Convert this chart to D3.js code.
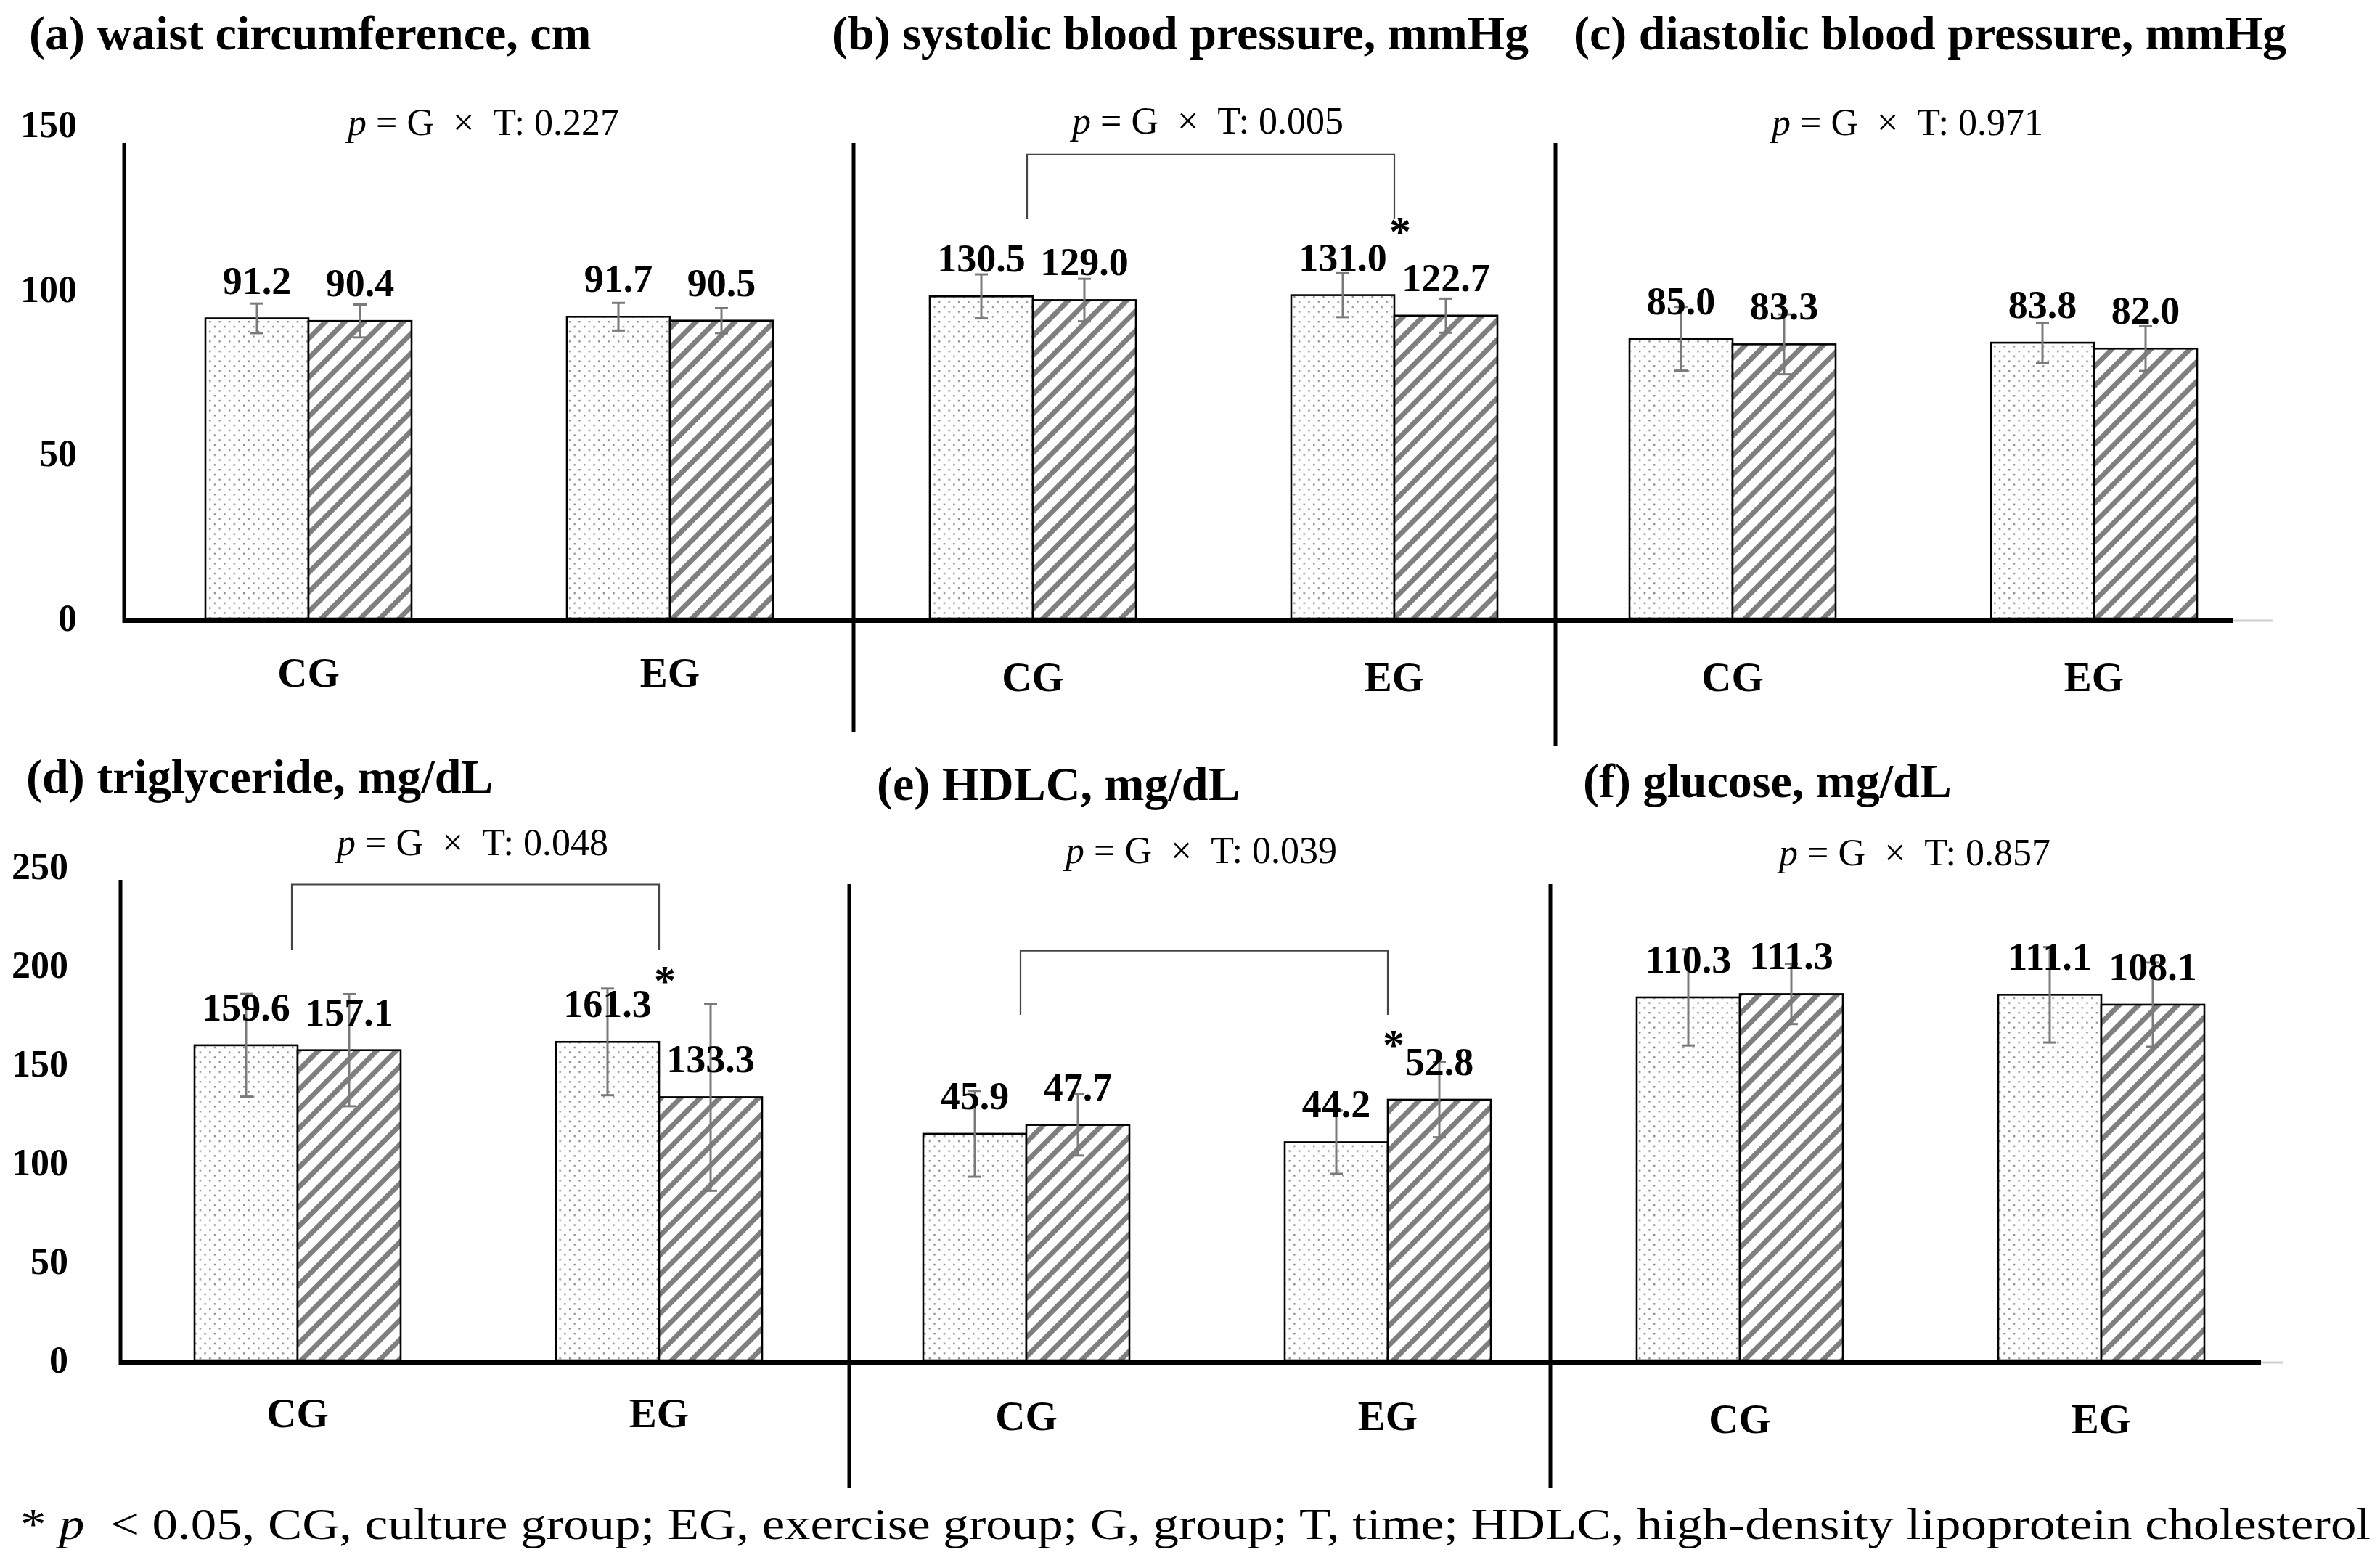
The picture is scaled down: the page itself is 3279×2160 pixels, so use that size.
<!DOCTYPE html>
<html lang="en">
<head>
<meta charset="UTF-8">
<title>Metabolic markers by group</title>
<script src="https://d3js.org/d3.v7.min.js"></script>
<style>
  body { margin: 0; background: #fff; }
  svg { display: block; }
  text { font-family: "Liberation Serif", "Times New Roman", serif; fill: #000; }
  .title { font-size: 66px; font-weight: bold; }
  .ptext { font-size: 52px; }
  .val { font-size: 54px; font-weight: bold; }
  .cat { font-size: 57px; font-weight: bold; }
  .star { font-size: 60px; font-weight: bold; }
  .tick text { font-size: 52px; font-weight: bold; font-family: "Liberation Serif", serif; }
  .note { font-size: 62px; }
</style>
</head>
<body>
<script>
// ---- data ----
const titles = [
  "(a) waist circumference, cm",
  "(b) systolic blood pressure, mmHg",
  "(c) diastolic blood pressure, mmHg",
  "(d) triglyceride, mg/dL",
  "(e) HDLC, mg/dL",
  "(f) glucose, mg/dL"
];
const groups = ["CG", "EG"];
const pValues = ["0.227", "0.005", "0.971", "0.048", "0.039", "0.857"];
const preMean  = [[91.2, 91.7], [130.5, 131.0], [85.0, 83.8], [159.6, 161.3], [45.9, 44.2], [110.3, 111.1]];
const postMean = [[90.4, 90.5], [129.0, 122.7], [83.3, 82.0], [157.1, 133.3], [47.7, 52.8], [111.3, 108.1]];
const preSD    = [[4.5, 4.2], [8.9, 8.9], [9.7, 6.1], [26.0, 27.0], [8.7, 6.4], [14.6, 14.5]];
const postSD   = [[5.0, 3.8], [8.6, 6.9], [9.1, 6.8], [28.4, 47.4], [6.2, 7.6], [9.1, 12.8]];
const yMax = [150, 200, 150, 250, 100, 150];
const yTicks = [[0, 50, 100, 150], null, null, [0, 50, 100, 150, 200, 250], null, null];
// significance bracket (value units) and star level, null = none
const bracketTop    = [null, 188, null, 241, 83, null];
const bracketBottom = [null, 162, null, 208, 70, null];
const starLevel     = [null, 151, null, 185, 61, null];
const footnote = "  < 0.05, CG, culture group; EG, exercise group; G, group; T, time; HDLC, high-density lipoprotein cholesterol";

// ---- layout ----
const W = 3279, H = 2160;
const plotH = 680, barW = 142, groupGap = 498;
const panels = [
  { ax: 171,  cx: 425,  y0: 852,  lineTop: 197,  lineBot: 858,  axEnd: 1176, tx: 40,   ty: 68,   tickPad: 65 },
  { ax: 1176, cx: 1423, y0: 852,  lineTop: 197,  lineBot: 1008, axEnd: 2143, tx: 1146, ty: 68 },
  { ax: 2143, cx: 2387, y0: 852,  lineTop: 197,  lineBot: 1028, axEnd: 3076, ext: 3132, tx: 2168, ty: 68 },
  { ax: 166,  cx: 410,  y0: 1874, lineTop: 1212, lineBot: 1881, axEnd: 1170, tx: 36,   ty: 1092, tickPad: 72 },
  { ax: 1170, cx: 1414, y0: 1874, lineTop: 1218, lineBot: 2050, axEnd: 2136, tx: 1208, ty: 1102 },
  { ax: 2136, cx: 2397, y0: 1874, lineTop: 1218, lineBot: 2050, axEnd: 3115, ext: 3145, tx: 2181, ty: 1098 }
];
const catY = [946, 952, 952, 1966, 1970, 1974];
const pY = [186, 184, 186, 1178, 1189, 1192];

const svg = d3.select("body").append("svg")
  .attr("width", W).attr("height", H)
  .attr("viewBox", `0 0 ${W} ${H}`);

svg.append("rect").attr("width", W).attr("height", H).attr("fill", "#fff");

// patterns
const defs = svg.append("defs");
const dots = defs.append("pattern")
  .attr("id", "dots").attr("patternUnits", "userSpaceOnUse")
  .attr("width", 13.4).attr("height", 13.6);
dots.append("rect").attr("width", 13.4).attr("height", 13.6).attr("fill", "#fff");
dots.append("rect").attr("x", 0).attr("y", 0).attr("width", 2.4).attr("height", 2.4).attr("fill", "#8a8a8a");
dots.append("rect").attr("x", 6.7).attr("y", 6.8).attr("width", 2.4).attr("height", 2.4).attr("fill", "#8a8a8a");

const stripes = defs.append("pattern")
  .attr("id", "stripes").attr("patternUnits", "userSpaceOnUse")
  .attr("width", 19).attr("height", 19)
  .attr("patternTransform", "rotate(45)");
stripes.append("rect").attr("width", 19).attr("height", 19).attr("fill", "#fff");
stripes.append("rect").attr("width", 7).attr("height", 19).attr("fill", "#7f7f7f");

panels.forEach((p, i) => {
  const g = svg.append("g");

  const x = d3.scalePoint().domain(groups).range([p.cx, p.cx + groupGap]);
  const sub = d3.scaleBand().domain(["pre", "post"]).range([-barW, barW]);
  const y = d3.scaleLinear().domain([0, yMax[i]]).range([p.y0, p.y0 - plotH]);

  // title
  g.append("text").attr("class", "title")
    .attr("x", p.tx).attr("y", p.ty).text(titles[i]);

  // p-value text
  const mid = (x("CG") + x("EG")) / 2 - 8;
  const pt = g.append("text").attr("class", "ptext")
    .attr("x", mid).attr("y", pY[i]).attr("text-anchor", "middle");
  pt.append("tspan").attr("font-style", "italic").text("p");
  pt.append("tspan").text(" = G\u2002×\u2002T: " + pValues[i]);

  // y tick labels
  if (yTicks[i]) {
    g.append("g").attr("class", "tick-axis")
      .attr("transform", `translate(${p.ax},0)`)
      .call(d3.axisLeft(y).tickValues(yTicks[i]).tickSize(0).tickPadding(p.tickPad))
      .call(a => a.select(".domain").remove());
  }

  const bars = [];
  groups.forEach((c, j) => {
    bars.push({ c, k: "pre", v: preMean[i][j], sd: preSD[i][j] });
    bars.push({ c, k: "post", v: postMean[i][j], sd: postSD[i][j] });
  });

  // bars
  g.selectAll("rect.bar").data(bars).enter().append("rect")
    .attr("class", "bar")
    .attr("x", d => x(d.c) + sub(d.k))
    .attr("y", d => y(d.v))
    .attr("width", sub.bandwidth())
    .attr("height", d => y(0) - y(d.v))
    .attr("fill", d => d.k === "pre" ? "url(#dots)" : "url(#stripes)")
    .attr("stroke", "#000").attr("stroke-width", 2.6);

  // error bars
  const eb = g.selectAll("g.err").data(bars).enter().append("g")
    .attr("class", "err")
    .attr("transform", d => `translate(${x(d.c) + sub(d.k) + sub.bandwidth() / 2},0)`)
    .attr("stroke", "#7a7a7a").attr("stroke-width", 3);
  eb.append("line").attr("y1", d => y(d.v + d.sd)).attr("y2", d => y(d.v - d.sd));
  eb.append("line").attr("x1", -9).attr("x2", 9).attr("y1", d => y(d.v + d.sd)).attr("y2", d => y(d.v + d.sd));
  eb.append("line").attr("x1", -9).attr("x2", 9).attr("y1", d => y(d.v - d.sd)).attr("y2", d => y(d.v - d.sd));

  // value labels
  g.selectAll("text.val").data(bars).enter().append("text")
    .attr("class", "val")
    .attr("x", d => x(d.c) + sub(d.k) + sub.bandwidth() / 2)
    .attr("y", d => y(d.v) - 34)
    .attr("text-anchor", "middle")
    .text(d => d3.format(".1f")(d.v));

  // category labels
  g.selectAll("text.cat").data(groups).enter().append("text")
    .attr("class", "cat")
    .attr("x", d => x(d)).attr("y", catY[i])
    .attr("text-anchor", "middle").text(d => d);

  // axes lines
  g.append("line")
    .attr("x1", p.ax).attr("x2", p.ax)
    .attr("y1", p.lineTop).attr("y2", p.lineBot)
    .attr("stroke", "#000").attr("stroke-width", 5);
  g.append("line")
    .attr("x1", p.ax - 2).attr("x2", p.axEnd)
    .attr("y1", y(0) + 3).attr("y2", y(0) + 3)
    .attr("stroke", "#000").attr("stroke-width", 6);
  if (p.ext) {
    g.append("line")
      .attr("x1", p.axEnd).attr("x2", p.ext)
      .attr("y1", y(0) + 3).attr("y2", y(0) + 3)
      .attr("stroke", "#d0d0d0").attr("stroke-width", 3);
  }

  // significance bracket
  if (bracketTop[i] != null) {
    const xl = x("CG") - 8, xr = x("EG");
    g.append("path")
      .attr("d", `M${xl},${y(bracketBottom[i])}V${y(bracketTop[i])}H${xr}V${y(bracketBottom[i])}`)
      .attr("fill", "none").attr("stroke", "#444").attr("stroke-width", 2.2);
    g.append("text").attr("class", "star")
      .attr("x", xr + 8).attr("y", y(starLevel[i]))
      .attr("text-anchor", "middle")
      .text("*");
  }
});

// footnote
const fn = svg.append("text").attr("class", "note")
  .attr("x", 28).attr("y", 2120)
  .attr("textLength", 3238).attr("lengthAdjust", "spacingAndGlyphs")
  .style("white-space", "pre");
fn.append("tspan").text("* ");
fn.append("tspan").attr("font-style", "italic").text("p");
fn.append("tspan").text(footnote);
</script>
</body>
</html>
